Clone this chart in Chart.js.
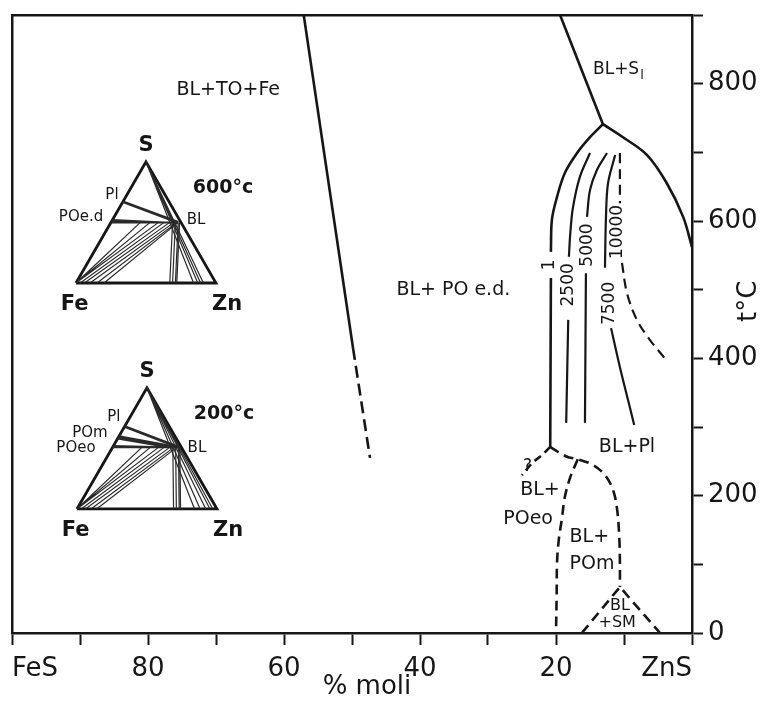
<!DOCTYPE html>
<html>
<head>
<meta charset="utf-8">
<script src="https://cdn.jsdelivr.net/npm/chart.js@4.4.0/dist/chart.umd.min.js"></script>
<style>
  html, body { margin: 0; padding: 0; background: #fff; }
  #wrap { width: 768px; height: 724px; position: relative; }
</style>
</head>
<body>
<div id="wrap"><canvas id="c"></canvas></div>
<script>
// x = mol % FeS (100 = FeS, 0 = ZnS), y = t °C
const xTickNames = { 100: 'FeS', 0: 'ZnS' };
const xLabelStep = 20;
const yLabelStep = 200;

// phase boundaries [mol% FeS, °C]; null = break in the line
const feToSolid  = [[57.1, 900], [49.85, 415]];
const feToDashed = [[49.85, 415], [47.35, 255]];
const slTop      = [[19.4, 900], [13.1, 741]];
const slRight    = [[13.1, 741], [10.15, 722], [6.6, 696], [3.7, 655], [1.3, 606], [0, 562]];
const slLeft     = [[13.1, 741], [15.0, 722], [16.9, 699], [18.7, 670], [19.85, 635], [20.6, 602], [20.75, 555], null, [20.75, 517], [20.85, 271]];

// isopleths
const iso2500  = [[15.0, 699], [16.5, 664], [17.5, 620], [17.9, 582], [18.1, 548], null, [18.2, 456], [18.5, 306]];
const iso5000  = [[12.5, 699], [14.0, 674], [15.0, 645], [15.44, 606], null, [15.6, 524], [15.74, 306]];
const iso7500  = [[11.3, 696], [12.35, 655], [12.65, 606], [12.8, 532], null, [11.9, 444], [10.6, 387], [9.4, 339], [8.5, 303]];
const iso10000 = [[10.6, 699], [10.6, 626], null, [10.3, 539], [9.56, 495], [8.1, 456], [6.2, 427], [4.0, 400]];

// low temperature (dashed)
const poeoLine   = [[20.85, 271], [22.06, 259], [23.5, 248], [25.0, 230]];
const domeRight  = [[20.85, 271], [19.4, 262], [18.2, 256], [16.8, 253], [14.6, 245], [12.8, 230], [11.6, 208], [11.0, 179], [10.7, 140], [10.6, 102], [10.6, 67]];
const domeLeft   = [[16.8, 253], [17.9, 227], [18.7, 198], [19.1, 169], [19.6, 135], [19.85, 102], [19.9, 58], [20.0, 0]];
const smTriangle = [[16.2, 0], [10.6, 67], [4.7, 0]];

const isoLabels = [
  { text: '1', x: 20.9, y: 536 },
  { text: '2500', x: 18.1, y: 507 },
  { text: '5000', x: 15.4, y: 565 },
  { text: '7500', x: 12.06, y: 480 },
  { text: '10000', x: 10.9, y: 584 }
];
const fieldLabels = [
  { text: 'BL+TO+Fe', x: 68.2, y: 791 },
  { text: 'BL+ PO e.d.', x: 35.1, y: 499 },
  { text: 'BL+Pl', x: 9.56, y: 271 },
  { text: 'BL+', x: 22.35, y: 208 },
  { text: 'POeo', x: 24.1, y: 166 },
  { text: 'BL+', x: 15.1, y: 140 },
  { text: 'POm', x: 14.7, y: 100 },
  { text: 'BL', x: 10.6, y: 39, size: 16 },
  { text: '+SM', x: 11.0, y: 15, size: 16 },
  { text: '?', x: 24.2, y: 243, size: 17 }
];

// ternary Fe-Zn-S sections, compositions [Fe, Zn, S]
const triangle = [[1, 0, 0], [0, 1, 0], [0, 0, 1], [1, 0, 0]];
const tie600 = {
  thick: [[[0.33, 0, 0.67], [0.02, 0.48, 0.5]]],
  band: [[[0.5, 0, 0.5], [0.02, 0.48, 0.5]], [[0.49, 0, 0.51], [0.04, 0.46, 0.5]], [[0.5, 0, 0.5], [0.08, 0.42, 0.5]],
         [[0.48, 0, 0.52], [0.12, 0.38, 0.5]], [[0.5, 0, 0.5], [0.18, 0.32, 0.5]]],
  fan: [[[1, 0, 0], [0.29, 0.21, 0.5]], [[1, 0, 0], [0.22, 0.28, 0.5]], [[1, 0, 0], [0.16, 0.34, 0.5]],
        [[0.97, 0.03, 0], [0.12, 0.38, 0.5]], [[0.94, 0.06, 0], [0.08, 0.42, 0.5]], [[0.9, 0.1, 0], [0.05, 0.45, 0.5]],
        [[0.85, 0.15, 0], [0.03, 0.47, 0.5]], [[0.8, 0.2, 0], [0.02, 0.48, 0.5]]],
  down: [[[0.06, 0.44, 0.5], [0.33, 0.67, 0]], [[0.04, 0.46, 0.5], [0.31, 0.69, 0]], [[0.02, 0.48, 0.5], [0.29, 0.71, 0]], [[0.01, 0.49, 0.5], [0.28, 0.72, 0]]],
  apex: [[[0, 0, 1], [0.16, 0.84, 0]], [[0, 0, 1], [0.13, 0.87, 0]], [[0, 0, 1], [0.11, 0.89, 0]], [[0, 0, 1], [0.09, 0.91, 0]]]
};
const tie200 = {
  thick: [[[0.32, 0, 0.68], [0.02, 0.47, 0.51]]],
  band: [[[0.4, 0, 0.6], [0.02, 0.47, 0.51]], [[0.41, 0, 0.59], [0.06, 0.43, 0.51]], [[0.42, 0, 0.58], [0.1, 0.39, 0.51]],
         [[0.49, 0, 0.51], [0.02, 0.47, 0.51]], [[0.49, 0, 0.51], [0.08, 0.41, 0.51]], [[0.48, 0, 0.52], [0.14, 0.35, 0.51]],
         [[0.49, 0, 0.51], [0.2, 0.29, 0.51]]],
  fan: [[[1, 0, 0], [0.28, 0.21, 0.51]], [[1, 0, 0], [0.22, 0.27, 0.51]], [[1, 0, 0], [0.16, 0.33, 0.51]],
        [[0.97, 0.03, 0], [0.12, 0.37, 0.51]], [[0.94, 0.06, 0], [0.08, 0.41, 0.51]], [[0.9, 0.1, 0], [0.05, 0.44, 0.51]],
        [[0.86, 0.14, 0], [0.03, 0.46, 0.51]]],
  down: [[[0.06, 0.43, 0.51], [0.31, 0.69, 0]], [[0.04, 0.45, 0.51], [0.29, 0.71, 0]], [[0.02, 0.47, 0.51], [0.27, 0.73, 0]], [[0.01, 0.48, 0.51], [0.26, 0.74, 0]]],
  apex: [[[0, 0, 1], [0.16, 0.84, 0]], [[0, 0, 1], [0.12, 0.88, 0]], [[0, 0, 1], [0.08, 0.92, 0]], [[0, 0, 1], [0.05, 0.95, 0]], [[0, 0, 1], [0.03, 0.97, 0]]]
};

const INK = '#161616';
const FONT = '"DejaVu Sans", sans-serif';
const SIDE = 140; // inset triangle side, px

const insets = [
  { origin: [0.457, 2.5], tie: tie600, temp: '600°c',
    phases: [['Pl', 0.257, 0.629], ['POe.d', 0.036, 0.471], ['BL', 0.857, 0.45]] },
  { origin: [0.464, 0.886], tie: tie200, temp: '200°c',
    phases: [['Pl', 0.264, 0.657], ['POm', 0.093, 0.543], ['POeo', -0.007, 0.436], ['BL', 0.857, 0.436]] }
];

// the x scale runs in mol % ZnS (left to right), labelled as mol % FeS
const toAxis = fes => 100 - fes;
const pts = (arr, fx) => arr.map(p => p ? { x: fx(p[0]), y: p[1] } : { x: null, y: null });
const tern = (c, o) => [o[0] + c[1] + c[2] / 2, o[1] + c[2] * Math.sqrt(3) / 2];

function curve(data, extra) {
  return Object.assign({
    data: pts(data, toAxis), showLine: true, pointRadius: 0, borderColor: INK,
    borderWidth: 2.6, tension: 0.35, fill: false, xAxisID: 'x', yAxisID: 'y'
  }, extra);
}
function insetLine(data, width, color) {
  return {
    data: pts(data, v => v), showLine: true, pointRadius: 0, borderColor: color || INK,
    borderWidth: width, tension: 0, fill: false, xAxisID: 'tx', yAxisID: 'ty'
  };
}
function tieSet(pairs, o, width) {
  const d = [];
  pairs.forEach(([a, b]) => { d.push(tern(a, o), tern(b, o), null); });
  return insetLine(d, width, '#2a2a2a');
}

const datasets = [
  curve(feToSolid, { tension: 0 }),
  curve(feToDashed, { tension: 0, borderDash: [12, 6] }),
  curve(slTop, { tension: 0 }),
  curve(slRight),
  curve(slLeft),
  curve(iso2500, { borderWidth: 2.2 }),
  curve(iso5000, { borderWidth: 2.2 }),
  curve(iso7500, { borderWidth: 2.2 }),
  curve(iso10000, { borderWidth: 2.2, borderDash: [10, 6] }),
  curve(poeoLine, { tension: 0, borderDash: [8, 5] }),
  curve(domeRight, { borderDash: [10, 6] }),
  curve(domeLeft, { borderDash: [10, 6] }),
  curve(smTriangle, { tension: 0, borderDash: [10, 6] })
];
insets.forEach(ins => {
  const o = ins.origin;
  datasets.push(tieSet(ins.tie.fan, o, 1.2));
  datasets.push(tieSet(ins.tie.down, o, 1.2));
  datasets.push(tieSet(ins.tie.apex, o, 1.2));
  datasets.push(tieSet(ins.tie.band, o, 2));
  datasets.push(tieSet(ins.tie.thick, o, 2.8));
  datasets.push(insetLine(triangle.map(c => tern(c, o)), 2.8));
});

const textPlugin = {
  id: 'texts',
  afterDatasetsDraw(chart) {
    const { ctx, scales: { x, y, tx, ty } } = chart;
    const X = fes => x.getPixelForValue(toAxis(fes));
    const put = (t, px, py, size, weight, rot) => {
      ctx.save();
      ctx.font = `${weight || 'normal'} ${size}px ${FONT}`;
      ctx.fillStyle = INK;
      ctx.textAlign = 'center';
      ctx.textBaseline = 'middle';
      ctx.translate(px, py);
      if (rot) ctx.rotate(rot);
      ctx.fillText(t, 0, 0);
      ctx.restore();
    };
    fieldLabels.forEach(l => put(l.text, X(l.x), y.getPixelForValue(l.y), l.size || 19));
    isoLabels.forEach(l => put(l.text, X(l.x), y.getPixelForValue(l.y), 17, 'normal', -Math.PI / 2));

    // BL+S with subscript l
    ctx.save();
    ctx.font = `17px ${FONT}`;
    ctx.fillStyle = INK;
    ctx.textBaseline = 'middle';
    const sx = X(14.56), sy = y.getPixelForValue(821);
    ctx.fillText('BL+S', sx, sy);
    const w = ctx.measureText('BL+S').width;
    ctx.font = `13px ${FONT}`;
    ctx.fillText('l', sx + w + 1, sy + 6);
    ctx.restore();

    // axis titles
    put('% moli', X(47.8), chart.chartArea.bottom + 54, 26);
    put('t°C', chart.chartArea.right + 57, y.getPixelForValue(483), 26, 'normal', -Math.PI / 2);

    // inset labels
    insets.forEach(ins => {
      const [ox, oy] = ins.origin;
      const P = (u, v) => [tx.getPixelForValue(ox + u), ty.getPixelForValue(oy + v)];
      put('S', ...P(0.5, 0.98), 21, 'bold');
      put('Fe', ...P(-0.01, -0.155), 21, 'bold');
      put('Zn', ...P(1.08, -0.155), 21, 'bold');
      put(ins.temp, ...P(1.05, 0.68), 19, 'bold');
      ins.phases.forEach(([t, u, v]) => put(t, ...P(u, v), 15));
    });
  }
};

const tickFont = { family: FONT, size: 26 };
const noPad = s => { s.paddingTop = 0; s.paddingBottom = 0; s.paddingLeft = 0; s.paddingRight = 0; };

new Chart(document.getElementById('c'), {
  type: 'scatter',
  data: { datasets },
  options: {
    responsive: true,
    maintainAspectRatio: false,
    animation: false,
    devicePixelRatio: 1,
    layout: { padding: { left: 12, top: 15, right: 0, bottom: 0 } },
    plugins: { legend: { display: false }, tooltip: { enabled: false } },
    scales: {
      x: {
        type: 'linear', position: 'bottom', min: 0, max: 100,
        ticks: {
          stepSize: 10, autoSkip: false, maxRotation: 0, align: 'inner', padding: 9,
          color: INK, font: tickFont,
          callback: v => {
            const fes = Math.round(100 - v);
            return xTickNames[fes] !== undefined ? xTickNames[fes] : (fes % xLabelStep === 0 ? String(fes) : '');
          }
        },
        grid: { drawOnChartArea: false, drawTicks: true, tickLength: 12, tickWidth: 2, tickColor: INK },
        border: { display: true, color: INK, width: 2.5 },
        afterFit: s => { s.height = 91; noPad(s); }
      },
      y: {
        type: 'linear', position: 'right', min: 0, max: 900,
        ticks: {
          stepSize: 100, autoSkip: false, padding: 5, color: INK, font: tickFont,
          callback: v => v % yLabelStep === 0 ? String(v) : ''
        },
        grid: { drawOnChartArea: false, drawTicks: true, tickLength: 11, tickWidth: 2, tickColor: INK },
        border: { display: true, color: INK, width: 2.5 },
        afterFit: s => { s.width = 76; noPad(s); }
      },
      xTop: {
        type: 'linear', position: 'top', min: 0, max: 100,
        ticks: { display: false },
        grid: { drawOnChartArea: false, drawTicks: false },
        border: { display: true, color: INK, width: 2.5 },
        afterFit: s => { s.height = 0; noPad(s); }
      },
      yLeft: {
        type: 'linear', position: 'left', min: 0, max: 900,
        ticks: { display: false },
        grid: { drawOnChartArea: false, drawTicks: false },
        border: { display: true, color: INK, width: 2.5 },
        afterFit: s => { s.width = 0; noPad(s); }
      },
      tx: { type: 'linear', display: false, min: 0, max: 680 / SIDE },
      ty: { type: 'linear', display: false, min: 0, max: 618 / SIDE }
    }
  },
  plugins: [textPlugin]
});
</script>
</body>
</html>
